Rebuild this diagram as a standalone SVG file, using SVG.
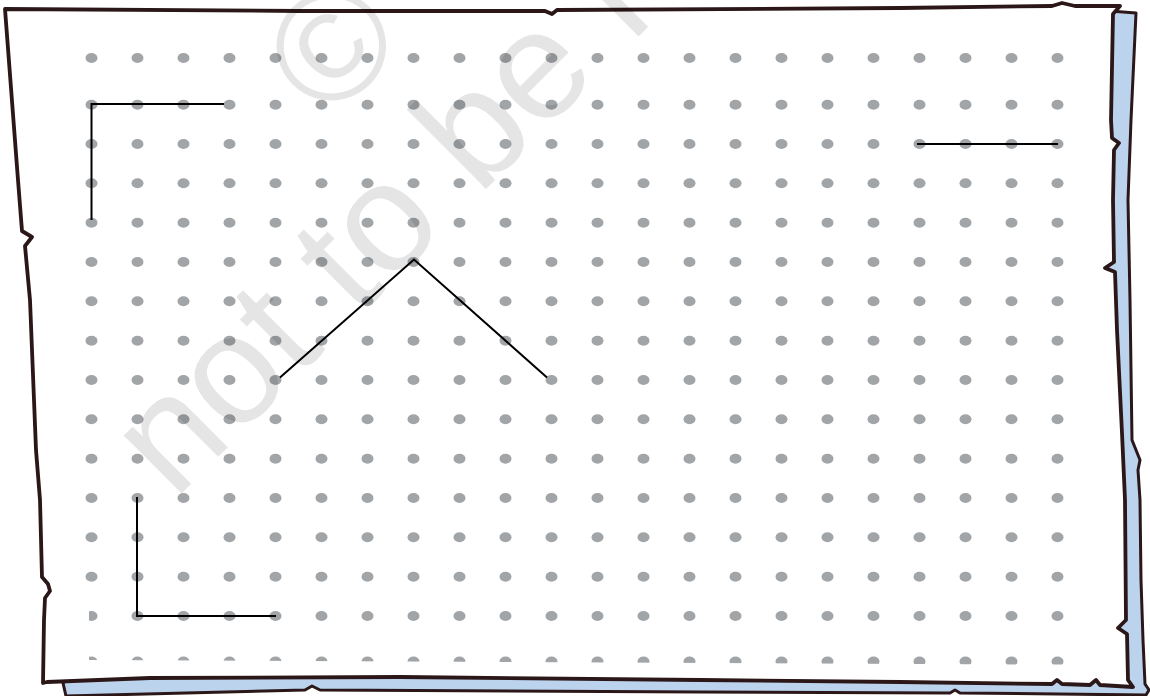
<svg xmlns="http://www.w3.org/2000/svg" xmlns:xlink="http://www.w3.org/1999/xlink" width="1150" height="696" viewBox="0 0 1150 696">
<style>
.dot{fill:#a2a5a8}
.edge{fill:none;stroke:#2b1718;stroke-linejoin:round;stroke-linecap:round}
.ln{fill:none;stroke:#000;stroke-width:2;stroke-linejoin:miter}
.wm{font-family:"Liberation Sans",Arial,sans-serif;font-size:155px;fill:#000;fill-opacity:0.1}
</style>
<defs>
<g id="row">
<ellipse class="dot" cx="91.5" cy="0" rx="6" ry="5"/><ellipse class="dot" cx="137.5" cy="0" rx="6" ry="5"/><ellipse class="dot" cx="183.5" cy="0" rx="6" ry="5"/><ellipse class="dot" cx="229.5" cy="0" rx="6" ry="5"/><ellipse class="dot" cx="275.5" cy="0" rx="6" ry="5"/><ellipse class="dot" cx="321.5" cy="0" rx="6" ry="5"/><ellipse class="dot" cx="367.5" cy="0" rx="6" ry="5"/><ellipse class="dot" cx="413.5" cy="0" rx="6" ry="5"/><ellipse class="dot" cx="459.5" cy="0" rx="6" ry="5"/><ellipse class="dot" cx="505.5" cy="0" rx="6" ry="5"/><ellipse class="dot" cx="551.5" cy="0" rx="6" ry="5"/><ellipse class="dot" cx="597.5" cy="0" rx="6" ry="5"/><ellipse class="dot" cx="643.5" cy="0" rx="6" ry="5"/><ellipse class="dot" cx="689.5" cy="0" rx="6" ry="5"/><ellipse class="dot" cx="735.5" cy="0" rx="6" ry="5"/><ellipse class="dot" cx="781.5" cy="0" rx="6" ry="5"/><ellipse class="dot" cx="827.5" cy="0" rx="6" ry="5"/><ellipse class="dot" cx="873.5" cy="0" rx="6" ry="5"/><ellipse class="dot" cx="919.5" cy="0" rx="6" ry="5"/><ellipse class="dot" cx="965.5" cy="0" rx="6" ry="5"/><ellipse class="dot" cx="1011.5" cy="0" rx="6" ry="5"/><ellipse class="dot" cx="1057.5" cy="0" rx="6" ry="5"/>
</g>
<clipPath id="dotclip"><path d="M0,0 H1150 V665 L89,660 V605 H0 Z"/></clipPath>
</defs>
<rect width="1150" height="696" fill="#fff"/>
<g id="frame">
<path id="shadow" class="edge" style="fill:#bcd3ee" stroke-width="3" d="M1110,11 L1136,13 L1131,120 L1128,200 L1130,300 L1132,440 L1140,460 L1138,470 L1140,500 L1141,580 L1143,640 L1145,684 L1149,690 L1146,695 L960,693 L955,690 L950,693 L700,692 L320,690 L312,686 L305,690 L66,696 L63,683 Z"/>
<path id="paper" class="edge" style="fill:#fff" stroke-width="3.8" d="M5,9 L300,11 L545,11 L552,14 L557,10 L900,8 L1052,6 L1062,3 L1075,6 L1120,6 L1113,14 L1111,120 L1112,138 L1119,143 L1114,150 L1113,200 L1114,262 L1105,268 L1115,272 L1117,330 L1122,433 L1125,500 L1126,620 L1118,628 L1127,634 L1128,680 L1133,687 L1100,685 L1096,680 L1090,685 L1062,684 L1057,680 L1052,684 L900,682 L700,680 L400,677 L150,678 L47,682 L43,683 L44,620 L45,598 L50,591 L48,584 L42,577 L40,500 L36,450 L30,300 L25,246 L32,237 L22,231 L18,180 Z"/>
</g>
<g id="dots" clip-path="url(#dotclip)">
<use href="#row" y="58"/><use href="#row" y="104.7"/><use href="#row" y="144"/><use href="#row" y="183.3"/><use href="#row" y="222.7"/><use href="#row" y="262"/><use href="#row" y="301.3"/><use href="#row" y="340.7"/><use href="#row" y="380"/><use href="#row" y="419.3"/><use href="#row" y="458.7"/><use href="#row" y="498"/><use href="#row" y="537.3"/><use href="#row" y="576.7"/><use href="#row" y="616"/><use href="#row" y="661.5"/>
</g>
<g id="connectors">
<path id="l-topleft" class="ln" d="M224,104 H91.5 V220"/>
<path id="l-topright" class="ln" d="M917,144 H1058"/>
<path id="l-peak" class="ln" d="M280,377.5 L414,259.5 L547,377.5"/>
<path id="l-bottomleft" class="ln" d="M137,497 V616 H276"/>
</g>
<g id="watermark" transform="translate(174,501) rotate(-45)">
<text class="wm" x="376" y="-157">©</text>
<text class="wm" x="0" y="0">not to be republished</text>
</g>
</svg>
